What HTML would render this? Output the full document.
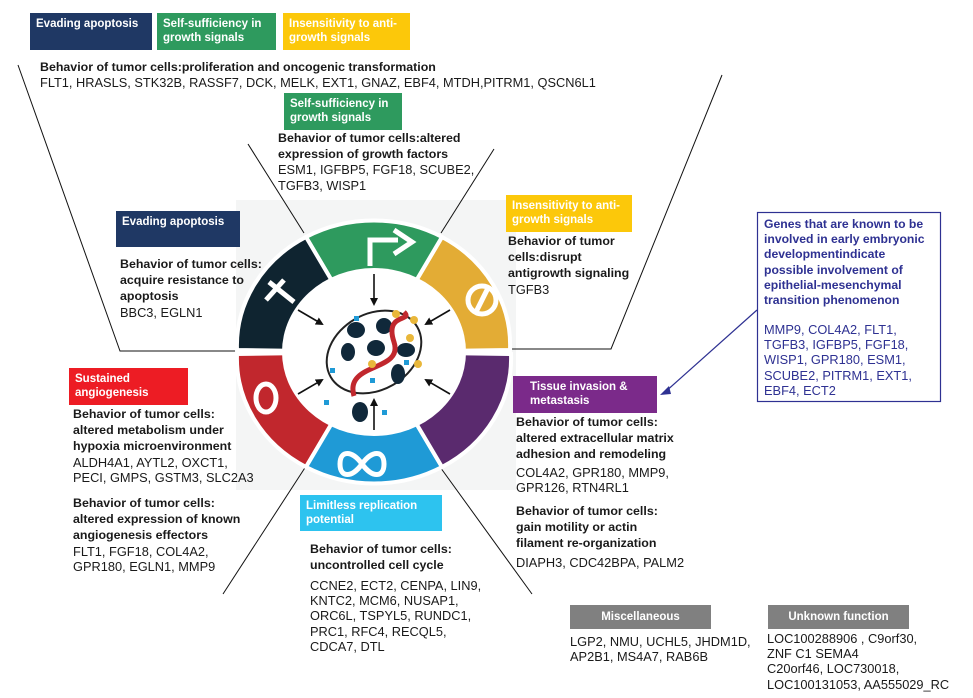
<!DOCTYPE html>
<html><head><meta charset="utf-8"><style>
body{margin:0;width:973px;height:698px;background:#fff;position:relative;overflow:hidden;font-family:"Liberation Sans",Arial,sans-serif;color:#1a1a1a}
.b{position:absolute;color:#fff;font-weight:bold;font-size:11.5px;line-height:14px;padding:4px 6px;box-sizing:border-box}
.t{position:absolute;font-size:12.8px;line-height:15.2px;white-space:nowrap}
.t b{font-weight:bold;font-size:12.4px}
</style></head><body>
<svg width="973" height="698" style="position:absolute;left:0;top:0">
<defs><marker id="ah" markerWidth="8" markerHeight="8" refX="6" refY="4" orient="auto" markerUnits="userSpaceOnUse"><path d="M0,0 L8,4 L0,8 Z" fill="#111"/></marker></defs>
<rect x="236" y="200" width="280" height="290" fill="#f4f5f5"/>
<g stroke="#111" stroke-width="1" fill="none">
<polyline points="18,65 120,351 236,351"/>
<polyline points="722,75 611,349 509,349"/>
<line x1="248" y1="144" x2="304" y2="233"/>
<line x1="494" y1="149" x2="441" y2="233"/>
<line x1="310" y1="460" x2="223" y2="594"/>
<line x1="435" y1="460" x2="532" y2="594"/>
</g>
<g transform="translate(374,352)">
<g stroke="#fff" stroke-width="4">
<path d="M0,0 L136,-2 A137,125 0 0 0 68,-115 Z" fill="#e3ac35"/>
<path d="M0,0 L68,-115 A137,125 0 0 0 -68,-115 Z" fill="#2e9a5e"/>
<path d="M0,0 L-68,-115 A137,125 0 0 0 -137,-2 Z" fill="#0f2430"/>
<path d="M0,0 L-137,2 A137,125 0 0 0 -68,115 Z" fill="#c1272d"/>
<path d="M0,0 L-68,115 A137,125 0 0 0 68,115 Z" fill="#1f9ad6"/>
<path d="M0,0 L68,115 A137,125 0 0 0 137,2 Z" fill="#5a2a6e"/>
</g>
<ellipse rx="92" ry="84" fill="#fff"/>
<g stroke="#fff" stroke-width="5" fill="none">
<path d="M-4,-86 V-112 H24"/><path d="M20,-122 L38,-110 L20,-98"/>
<circle cx="108" cy="-52" r="14"/><line x1="102" y1="-40" x2="114" y2="-64"/>
<line x1="-105" y1="-70" x2="-80" y2="-50"/><line x1="-108" y1="-52" x2="-90" y2="-72"/>
<ellipse cx="-108" cy="46" rx="10" ry="14"/>
<path d="M-12,112 c-10,-14 -22,-14 -22,0 c0,14 12,14 22,0 c10,-14 22,-14 22,0 c0,14 -12,14 -22,0"/>
</g>
<g stroke="#111" stroke-width="1.6" fill="none">
<line x1="0" y1="-78" x2="0" y2="-48" marker-end="url(#ah)"/>
<line x1="0" y1="78" x2="0" y2="48" marker-end="url(#ah)"/>
<line x1="-76" y1="-42" x2="-52" y2="-28" marker-end="url(#ah)"/><line x1="76" y1="-42" x2="52" y2="-28" marker-end="url(#ah)"/>
<line x1="-76" y1="42" x2="-52" y2="28" marker-end="url(#ah)"/><line x1="76" y1="42" x2="52" y2="28" marker-end="url(#ah)"/>
</g>
<ellipse rx="50" ry="38" fill="none" stroke="#222" stroke-width="2" transform="rotate(-30)"/>
<g fill="#10283a"><ellipse cx="-18" cy="-22" rx="9" ry="8"/><ellipse cx="10" cy="-26" rx="8" ry="8"/><ellipse cx="-26" cy="0" rx="7" ry="9"/><ellipse cx="2" cy="-4" rx="9" ry="8"/><ellipse cx="32" cy="-2" rx="9" ry="7"/><ellipse cx="24" cy="22" rx="7" ry="10"/><ellipse cx="-14" cy="60" rx="8" ry="10"/></g>
<path d="M-20,44 C-30,10 30,20 20,-10 S40,-30 30,-40" stroke="#c1272d" stroke-width="5" fill="none"/>
<g fill="#e9b73a"><circle cx="22" cy="-38" r="4"/><circle cx="40" cy="-32" r="4"/><circle cx="36" cy="-14" r="4"/><circle cx="-2" cy="12" r="4"/><circle cx="44" cy="12" r="4"/></g>
<g fill="#1f9ad6"><rect x="-20" y="-36" width="5" height="5"/><rect x="-44" y="16" width="5" height="5"/><rect x="-50" y="48" width="5" height="5"/><rect x="8" y="58" width="5" height="5"/><rect x="-4" y="26" width="5" height="5"/><rect x="30" y="8" width="5" height="5"/></g>
</g>
<line x1="757" y1="310" x2="664" y2="393" stroke="#2e3192" stroke-width="1.2"/>
<polygon points="660,395 669,386 671,394" fill="#2e3192"/>
<rect x="757.5" y="212.5" width="183" height="189" fill="none" stroke="#2e3192" stroke-width="1.2"/>
</svg>
<div class="b" style="left:30px;top:13px;width:122px;height:37px;background:#1f3864">Evading apoptosis</div>
<div class="b" style="left:157px;top:13px;width:119px;height:37px;background:#2e9a5e">Self-sufficiency in growth signals</div>
<div class="b" style="left:283px;top:13px;width:127px;height:37px;background:#fcc80a">Insensitivity to anti-growth signals</div>
<div class="t" style="left:40px;top:59px"><b>Behavior of tumor cells:proliferation and oncogenic transformation</b><br>FLT1, HRASLS, STK32B, RASSF7, DCK, MELK, EXT1, GNAZ, EBF4, MTDH,PITRM1, QSCN6L1</div>
<div class="b" style="left:284px;top:93px;width:118px;height:37px;background:#2e9a5e">Self-sufficiency in growth signals</div>
<div class="t" style="left:278px;top:130px"><b>Behavior of tumor cells:altered<br>expression of growth factors</b><br>ESM1, IGFBP5, FGF18, SCUBE2,<br>TGFB3, WISP1</div>
<div class="b" style="left:116px;top:211px;width:124px;height:36px;background:#1f3864">Evading apoptosis</div>
<div class="t" style="left:120px;top:256px"><b>Behavior of tumor cells:<br>acquire resistance to<br>apoptosis</b><br>BBC3, EGLN1</div>
<div class="b" style="left:506px;top:195px;width:126px;height:37px;background:#fcc80a">Insensitivity to anti-growth signals</div>
<div class="t" style="left:508px;top:233px"><b>Behavior of tumor<br>cells:disrupt<br>antigrowth signaling</b><br>TGFB3</div>
<div class="b" style="left:69px;top:368px;width:119px;height:37px;background:#ed1c24">Sustained angiogenesis</div>
<div class="t" style="left:73px;top:406px"><b>Behavior of tumor cells:<br>altered metabolism under<br>hypoxia microenvironment</b><br>ALDH4A1, AYTL2, OXCT1,<br>PECI, GMPS, GSTM3, SLC2A3</div>
<div class="t" style="left:73px;top:495px"><b>Behavior of tumor cells:<br>altered expression of known<br>angiogenesis effectors</b><br>FLT1, FGF18, COL4A2,<br>GPR180, EGLN1, MMP9</div>
<div class="b" style="left:513px;top:376px;width:144px;height:37px;background:#7b2a8a;padding-left:17px">Tissue invasion &amp; metastasis</div>
<div class="t" style="left:516px;top:414px"><b>Behavior of tumor cells:<br>altered extracellular matrix<br>adhesion and remodeling</b></div>
<div class="t" style="left:516px;top:465px">COL4A2, GPR180, MMP9,<br>GPR126, RTN4RL1</div>
<div class="t" style="left:516px;top:503px"><b>Behavior of tumor cells:<br>gain motility or actin<br>filament re-organization</b></div>
<div class="t" style="left:516px;top:555px">DIAPH3, CDC42BPA, PALM2</div>
<div class="b" style="left:300px;top:495px;width:142px;height:36px;background:#2dc3ef">Limitless replication potential</div>
<div class="t" style="left:310px;top:541px"><b>Behavior of tumor cells:<br>uncontrolled cell cycle</b></div>
<div class="t" style="left:310px;top:578px">CCNE2, ECT2, CENPA, LIN9,<br>KNTC2, MCM6, NUSAP1,<br>ORC6L, TSPYL5, RUNDC1,<br>PRC1, RFC4, RECQL5,<br>CDCA7, DTL</div>
<div class="t" style="left:764px;top:217px;color:#2e3192;font-weight:bold;font-size:12.2px">Genes that are known to be<br>involved in early embryonic<br>developmentindicate<br>possible involvement of<br>epithelial-mesenchymal<br>transition phenomenon</div>
<div class="t" style="left:764px;top:322px;color:#2e3192">MMP9, COL4A2, FLT1,<br>TGFB3, IGFBP5, FGF18,<br>WISP1, GPR180, ESM1,<br>SCUBE2, PITRM1, EXT1,<br>EBF4, ECT2</div>
<div class="b" style="left:570px;top:605px;width:141px;height:24px;background:#808080;text-align:center;padding-top:5px">Miscellaneous</div>
<div class="b" style="left:768px;top:605px;width:141px;height:24px;background:#808080;text-align:center;padding-top:5px">Unknown function</div>
<div class="t" style="left:570px;top:634px">LGP2, NMU, UCHL5, JHDM1D,<br>AP2B1, MS4A7, RAB6B</div>
<div class="t" style="left:767px;top:631px">LOC100288906 , C9orf30,<br>ZNF      C1      SEMA4<br>C20orf46, LOC730018,<br>LOC100131053, AA555029_RC</div>
</body></html>
